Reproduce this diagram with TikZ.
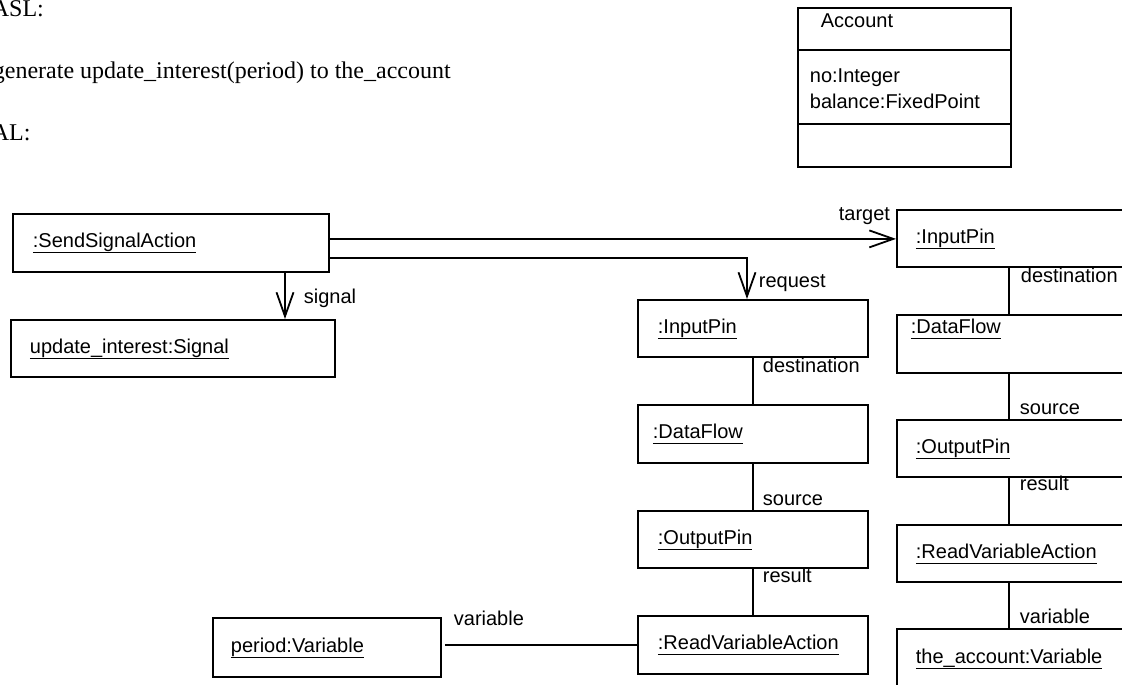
\documentclass[tikz,border=0pt]{standalone}
\usepackage{fontspec}
\setmainfont{Liberation Sans}
\newfontfamily\codefont{Liberation Serif}
\usetikzlibrary{arrows.meta,calc}

% underlined object name (instance notation)
\newsavebox\objnamebox
\newcommand\objname[1]{\sbox\objnamebox{#1}\rlap{\rule[-5.5pt]{\wd\objnamebox}{1.3pt}}\usebox\objnamebox}

\begin{document}
\begin{tikzpicture}[x=1pt,y=-1pt,
  line width=1.8pt,
  font=\fontsize{20}{24}\selectfont,
  code/.style={anchor=base west, inner sep=0pt, font=\codefont\fontsize{24}{28}\selectfont},
  lbl/.style={anchor=base west, inner sep=0pt},
  objbox/.style={draw, anchor=north west, inner sep=0pt, align=left,
    text width=#1, minimum width=#1, minimum height=57pt,
    text height=15pt, text depth=5pt},
  link/.style={line width=1.8pt},
  arr/.style={link, -{Straight Barb[length=24pt,width=17pt]}}
]
\useasboundingbox (0,0) rectangle (1122,685);
\clip (0,0) rectangle (1122,685);

% action language statement
\node[code] (hdrA) at (-9,17) {ASL:};
\node[code] (stmt) at (-8,78) {generate update\_interest(period) to the\_account};
\node[code] (hdrB) at (-9,140) {AL:};

% class Account
\node[draw, anchor=north west, inner sep=0pt, minimum width=213pt, minimum height=159pt] (acct) at (797,7) {};
\draw ([yshift=-43pt]acct.north west) -- ([yshift=-43pt]acct.north east);
\draw ([yshift=-117pt]acct.north west) -- ([yshift=-117pt]acct.north east);
\node[lbl] (acctName) at (820,28) {Account};
\node[lbl] (acctNo) at (809,82) {no:Integer};
\node[lbl] (acctBal) at (809,108) {balance:FixedPoint};

% object instances
\node[objbox=316pt, minimum height=58pt] (ssa) at (12,213) {\hspace*{20pt}\objname{:SendSignalAction}};
\node[objbox=324pt] (sig) at (10,319) {\hspace*{19pt}\objname{update\_interest:Signal}};

\node[objbox=230pt] (ipM) at (637,299) {\hspace*{20pt}\objname{:InputPin}};
\node[objbox=230pt, minimum height=58pt] (dfM) at (637,404) {\hspace*{15pt}\objname{:DataFlow}};
\node[objbox=230pt] (opM) at (637,510) {\hspace*{20pt}\objname{:OutputPin}};
\node[objbox=230pt, minimum height=58pt] (rvM) at (637,615) {\hspace*{20pt}\objname{:ReadVariableAction}};
\node[objbox=228pt, minimum height=59pt] (pv) at (212,617) {\hspace*{18pt}\objname{period:Variable}};

\node[objbox=240pt] (ipR) at (896,209) {\hspace*{19pt}\objname{:InputPin}};
\node[objbox=240pt, minimum height=58pt, text height=5pt, text depth=25pt] (dfR) at (896,314) {\hspace*{14pt}\objname{:DataFlow}};
\node[objbox=240pt] (opR) at (896,419) {\hspace*{19pt}\objname{:OutputPin}};
\node[objbox=240pt] (rvR) at (896,524) {\hspace*{19pt}\objname{:ReadVariableAction}};
\node[objbox=240pt, minimum height=60pt] (acR) at (896,628) {\hspace*{19pt}\objname{the\_account:Variable}};

% links from the send signal action
\draw[arr] ([yshift=4pt]ssa.east) -- ([yshift=4pt]ssa.east -| ipR.west);
\draw[arr] ([yshift=-15pt]ssa.east) -| ([xshift=110pt]ipM.north west);
\draw[arr] ([xshift=273pt]ssa.south west) -- ([xshift=275pt]sig.north west);

% request chain
\draw[link] (ipM.south) -- (dfM.north);
\draw[link] (dfM.south) -- (opM.north);
\draw[link] (opM.south) -- (rvM.north);
\draw[link] ([xshift=3pt,yshift=2.5pt]pv.east) -- (rvM.west);

% target chain
\draw[link] ([xshift=113pt]ipR.south west) -- ([xshift=113pt]dfR.north west);
\draw[link] ([xshift=113pt]dfR.south west) -- ([xshift=113pt]opR.north west);
\draw[link] ([xshift=113pt]opR.south west) -- ([xshift=113pt]rvR.north west);
\draw[link] ([xshift=113pt]rvR.south west) -- ([xshift=113pt]acR.north west);

% role names
\node[lbl] (lTarget) at (838,220) {target};
\node[lbl] (lRequest) at (758,287) {request};
\node[lbl] (lSignal) at (303,303) {signal};
\node[lbl] (lDestM) at (762,372) {destination};
\node[lbl] (lSrcM) at (762,505) {source};
\node[lbl] (lResM) at (762,582) {result};
\node[lbl] (lVarM) at (453,625) {variable};
\node[lbl] (lDestR) at (1020,282) {destination};
\node[lbl] (lSrcR) at (1019,414) {source};
\node[lbl] (lResR) at (1019,490) {result};
\node[lbl] (lVarR) at (1019,623) {variable};
\end{tikzpicture}
\end{document}
